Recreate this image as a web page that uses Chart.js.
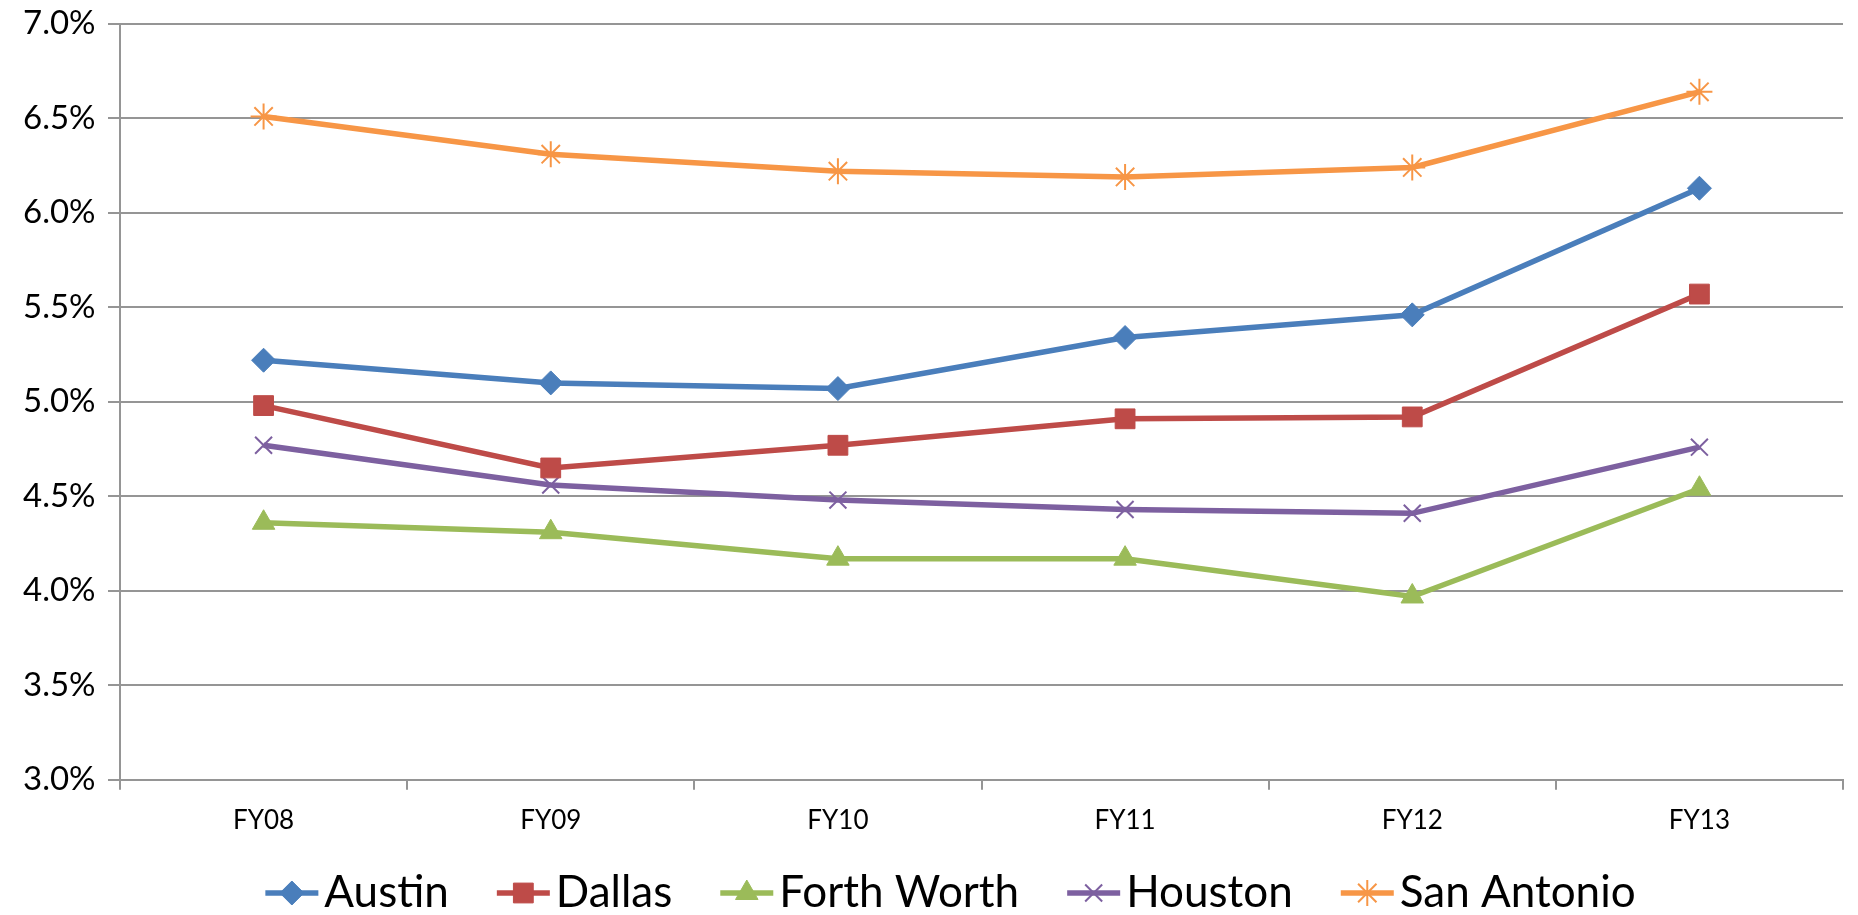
<!DOCTYPE html>
<html>
<head>
<meta charset="utf-8">
<title>City rates FY08-FY13</title>
<script src="https://cdn.jsdelivr.net/npm/chart.js@4"></script>
<style>
  html, body { margin: 0; padding: 0; background: #fff; }
  #chart { display: block; }
</style>
</head>
<body>
<canvas id="chart" width="1858" height="915"></canvas>
<script>
// fiscal years along the bottom
const years = ['FY08', 'FY09', 'FY10', 'FY11', 'FY12', 'FY13'];

// rates per city, in percent
const austin = [5.22, 5.10, 5.07, 5.34, 5.46, 6.13];
const dallas = [4.98, 4.65, 4.77, 4.91, 4.92, 5.57];
const forthWorth = [4.36, 4.31, 4.17, 4.17, 3.97, 4.54];
const houston = [4.77, 4.56, 4.48, 4.43, 4.41, 4.76];
const sanAntonio = [6.51, 6.31, 6.22, 6.19, 6.24, 6.64];

// y axis range
const yMin = 3.0;
const yMax = 7.0;
const yStep = 0.5;

const gridColor = '#959595';
const legendFont = 44;
const legendBox = 65;

function series(label, data, color, style, radius, border) {
    return {
        label: label,
        data: data,
        borderColor: color,
        backgroundColor: color,
        borderWidth: 5.5,
        pointStyle: style,
        pointRadius: radius,
        pointHoverRadius: radius,
        pointBackgroundColor: color,
        pointBorderColor: color,
        pointBorderWidth: border,
        tension: 0
    };
}

// Excel-style legend: a short line with the marker on top of it,
// drawn at the right end of the (invisible) legend box
const legendMarkers = {
    id: 'legendMarkers',
    afterDraw(chart) {
        const legend = chart.legend;
        const ctx = chart.ctx;
        legend.legendItems.forEach((item, i) => {
            const box = legend.legendHitBoxes[i];
            const ds = chart.data.datasets[item.datasetIndex];
            const y = box.top + box.height / 2;
            const x1 = box.left + legendBox + legendFont / 2 - 6;
            const x0 = x1 - 53;
            ctx.save();
            ctx.strokeStyle = ds.borderColor;
            ctx.lineWidth = ds.borderWidth;
            ctx.beginPath();
            ctx.moveTo(x0, y);
            ctx.lineTo(x1, y);
            ctx.stroke();
            ctx.fillStyle = ds.pointBackgroundColor;
            ctx.strokeStyle = ds.pointBorderColor;
            ctx.lineWidth = ds.pointBorderWidth;
            Chart.helpers.drawPoint(ctx, {
                pointStyle: ds.pointStyle,
                radius: ds.pointRadius,
                rotation: 0,
                borderWidth: ds.pointBorderWidth
            }, (x0 + x1) / 2, y);
            ctx.restore();
        });
    }
};

new Chart(document.getElementById('chart').getContext('2d'), {
    type: 'line',
    data: {
        labels: years,
        datasets: [
            series('Austin', austin, '#4A7EBB', 'rectRot', 12, 1),
            series('Dallas', dallas, '#BE4B48', 'rect', 14, 1),
            series('Forth Worth', forthWorth, '#9BBB59', 'triangle', 13, 1),
            series('Houston', houston, '#7D60A0', 'crossRot', 12, 2),
            series('San Antonio', sanAntonio, '#F79646', 'star', 13, 2)
        ]
    },
    options: {
        responsive: false,
        animation: false,
        layout: {
            padding: { left: 23, right: 8, top: 0, bottom: -10 }
        },
        plugins: {
            tooltip: { enabled: false },
            legend: {
                position: 'bottom',
                labels: {
                    color: '#000',
                    font: { family: 'Lato', size: legendFont },
                    boxWidth: legendBox,
                    boxHeight: legendFont,
                    padding: 20,
                    generateLabels(chart) {
                        return Chart.defaults.plugins.legend.labels.generateLabels(chart).map(l => {
                            l.fillStyle = 'rgba(0,0,0,0)';
                            l.strokeStyle = 'rgba(0,0,0,0)';
                            l.lineWidth = 0;
                            return l;
                        });
                    }
                }
            }
        },
        scales: {
            x: {
                offset: true,
                grid: {
                    offset: true,
                    drawOnChartArea: false,
                    drawTicks: true,
                    tickLength: 10,
                    color: gridColor,
                    lineWidth: 2
                },
                border: { color: gridColor, width: 2 },
                ticks: {
                    color: '#000',
                    font: { family: 'Lato', size: 26 },
                    padding: 15
                }
            },
            y: {
                min: yMin,
                max: yMax,
                // fixed axis width; labels sit at its left edge
                afterFit(scale) {
                    scale.width = 97;
                },
                grid: {
                    color: gridColor,
                    lineWidth: 2,
                    drawTicks: true,
                    tickLength: 12
                },
                border: { color: gridColor, width: 2 },
                ticks: {
                    stepSize: yStep,
                    color: '#000',
                    font: { family: 'Lato', size: 33 },
                    padding: 4,
                    crossAlign: 'far',
                    callback: v => v.toFixed(1) + '%'
                }
            }
        }
    },
    plugins: [legendMarkers]
});
</script>
</body>
</html>
